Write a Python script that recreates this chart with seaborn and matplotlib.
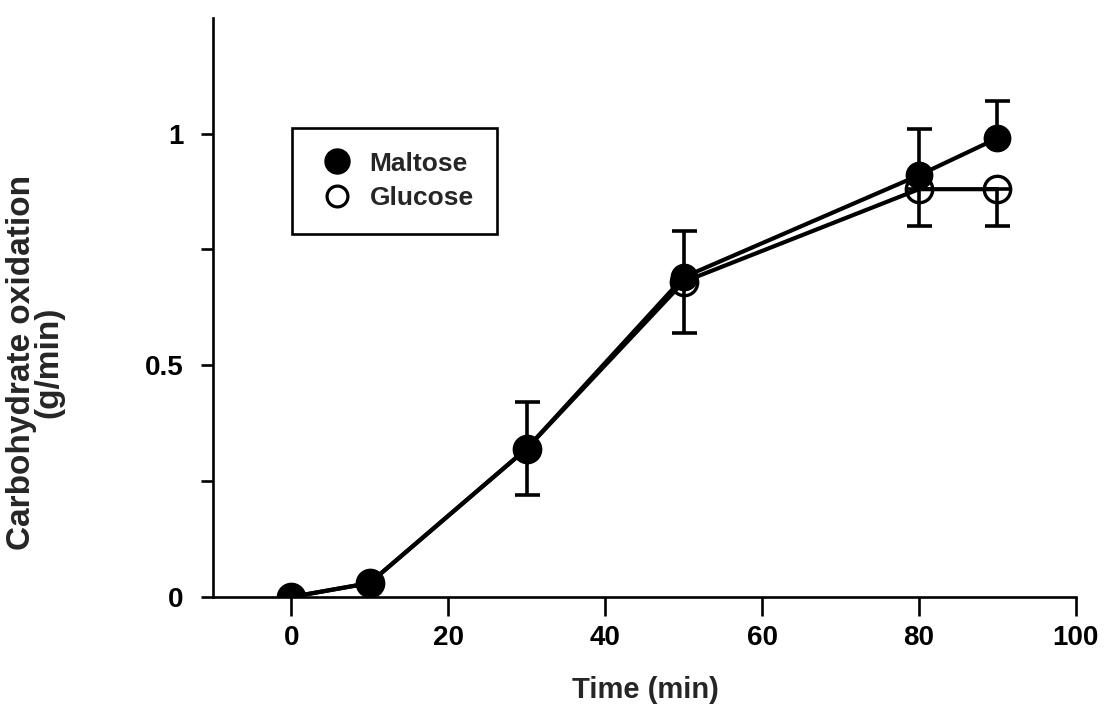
import matplotlib
matplotlib.use("Agg")
import matplotlib.pyplot as plt
from matplotlib.lines import Line2D
import seaborn as sns
import numpy as np

# Carbohydrate oxidation during exercise, maltose vs glucose ingestion
time_min = [0, 10, 30, 50, 80, 90]
maltose = [0.0, 0.03, 0.32, 0.69, 0.91, 0.99]
maltose_err = [0.0, 0.0, 0.10, 0.10, 0.10, 0.08]
glucose = [0.0, 0.03, 0.32, 0.68, 0.88, 0.88]
glucose_err = [0.0, 0.0, 0.10, 0.11, 0.08, 0.08]

x_ticks = [0, 20, 40, 60, 80, 100]
y_ticks = [0, 0.25, 0.5, 0.75, 1.0]
y_tick_labels = ["0", "", "0.5", "", "1"]

sns.set_style("ticks")
plt.rcParams["font.family"] = ["Liberation Sans", "DejaVu Sans"]
plt.rcParams["font.weight"] = "bold"

fig = plt.figure(figsize=(11.08, 7.09), dpi=100)
ax = fig.add_axes([0.192, 0.158, 0.779, 0.817])

LW = 3.0
MS = 19

sns.lineplot(x=time_min, y=glucose, ax=ax, color="black", linewidth=LW,
             marker="o", markersize=MS, markerfacecolor="none",
             markeredgecolor="black", markeredgewidth=2.4,
             zorder=3, legend=False, clip_on=True)
sns.lineplot(x=time_min, y=maltose, ax=ax, color="black", linewidth=LW,
             marker="o", markersize=MS, markerfacecolor="black",
             markeredgecolor="black", markeredgewidth=1.0,
             zorder=4, legend=False, clip_on=True)

# one-sided error bars: maltose upward, glucose downward
ax.errorbar(time_min, maltose, yerr=[np.zeros(len(maltose)), maltose_err],
            fmt="none", ecolor="black", elinewidth=2.6, capsize=9,
            capthick=2.6, zorder=2)
ax.errorbar(time_min, glucose, yerr=[glucose_err, np.zeros(len(glucose))],
            fmt="none", ecolor="black", elinewidth=2.6, capsize=9,
            capthick=2.6, zorder=2)

for line in ax.lines:
    line.set_clip_on(True)

ax.set_xlim(-10, 100)
ax.set_ylim(0, 1.25)
ax.set_xticks(x_ticks)
ax.set_xticklabels([str(t) for t in x_ticks])
ax.set_yticks(y_ticks)
ax.set_yticklabels(y_tick_labels)

for side in ("top", "right"):
    ax.spines[side].set_visible(False)
for side in ("left", "bottom"):
    ax.spines[side].set_linewidth(1.9)
    ax.spines[side].set_color("black")
    ax.spines[side].set_zorder(5)

ax.tick_params(axis="x", direction="out", length=14, width=1.9,
               labelsize=20, pad=6, colors="black")
ax.tick_params(axis="y", direction="out", length=9, width=1.9,
               labelsize=20, pad=12, colors="black")
for lab in ax.get_xticklabels() + ax.get_yticklabels():
    lab.set_fontweight("bold")

ax.set_xlabel("")
ax.set_ylabel("")
fig.text(645 / 1108, 1 - 690 / 709, "Time (min)", ha="center", va="center",
         fontsize=21, fontweight="bold")
fig.text(35 / 1108, 1 - 362 / 709, "Carbohydrate oxidation\n(g/min)",
         ha="center", va="center", rotation=90, fontsize=24,
         fontweight="bold", linespacing=0.85)

# legend with square black frame
handles = [
    Line2D([], [], linestyle="none", marker="o", markersize=18,
           markerfacecolor="black", markeredgecolor="black"),
    Line2D([], [], linestyle="none", marker="o", markersize=15,
           markerfacecolor="none", markeredgecolor="black",
           markeredgewidth=2.3),
]
leg = ax.legend(handles, ["Maltose", "Glucose"], loc="upper left",
                bbox_to_anchor=(0.0915, 0.8097), borderaxespad=0,
                frameon=True, fancybox=False,
                borderpad=0.9, labelspacing=0.4, handlelength=1.6,
                handletextpad=0.45,
                prop={"weight": "bold", "size": 19})
frame = leg.get_frame()
frame.set_edgecolor("black")
frame.set_linewidth(1.9)
frame.set_alpha(1)

fig.savefig("out.png", dpi=100, facecolor="white")
